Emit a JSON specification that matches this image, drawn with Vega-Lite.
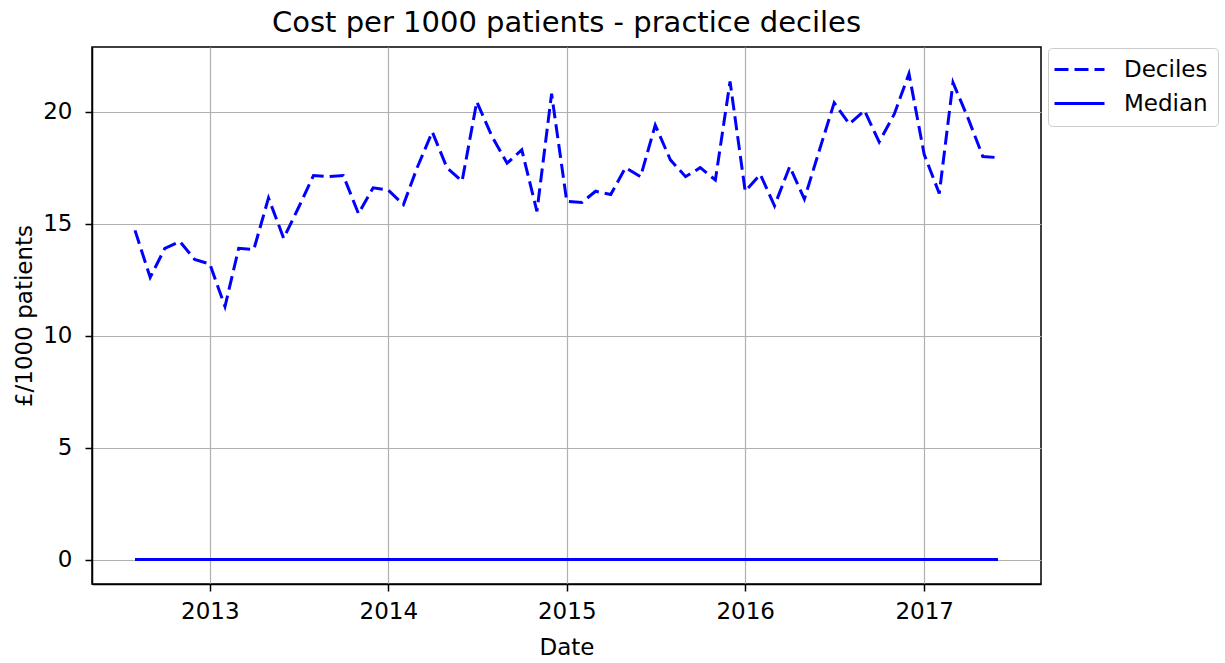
{
  "$schema": "https://vega.github.io/schema/vega-lite/v6.json",
  "autosize": "none",
  "width": 949,
  "height": 537,
  "padding": {"left": 92, "top": 47, "right": 184, "bottom": 79},
  "title": {"text": "Cost per 1000 patients - practice deciles", "fontSize": 29, "font": "DejaVu Sans", "fontWeight": "normal", "color": "#000000", "offset": 9, "anchor": "middle"},
  "config": {
    "font": "DejaVu Sans",
    "view": {"stroke": "#000000", "strokeWidth": 1.5},
    "axis": {"labelFont": "DejaVu Sans", "titleFont": "DejaVu Sans", "labelFontSize": 23, "titleFontSize": 23, "titleFontWeight": "normal", "labelColor": "#000000", "titleColor": "#000000", "domainColor": "#000000", "domainWidth": 1.5, "tickColor": "#000000", "tickWidth": 1.5, "tickSize": 7, "gridColor": "#b0b0b0", "gridWidth": 1.2, "grid": true},
    "legend": {"labelFont": "DejaVu Sans", "labelFontSize": 23, "labelColor": "#000000"}
  },
  "data": {"values": [
    {"date":"2012-08-01","Deciles":14.7,"Median":0},
    {"date":"2012-09-01","Deciles":12.6,"Median":0},
    {"date":"2012-10-01","Deciles":13.9,"Median":0},
    {"date":"2012-11-01","Deciles":14.2,"Median":0},
    {"date":"2012-12-01","Deciles":13.4,"Median":0},
    {"date":"2013-01-01","Deciles":13.2,"Median":0},
    {"date":"2013-02-01","Deciles":11.3,"Median":0},
    {"date":"2013-03-01","Deciles":13.9,"Median":0},
    {"date":"2013-04-01","Deciles":13.85,"Median":0},
    {"date":"2013-05-01","Deciles":16.15,"Median":0},
    {"date":"2013-06-01","Deciles":14.35,"Median":0},
    {"date":"2013-07-01","Deciles":15.7,"Median":0},
    {"date":"2013-08-01","Deciles":17.15,"Median":0},
    {"date":"2013-09-01","Deciles":17.1,"Median":0},
    {"date":"2013-10-01","Deciles":17.15,"Median":0},
    {"date":"2013-11-01","Deciles":15.45,"Median":0},
    {"date":"2013-12-01","Deciles":16.6,"Median":0},
    {"date":"2014-01-01","Deciles":16.5,"Median":0},
    {"date":"2014-02-01","Deciles":15.85,"Median":0},
    {"date":"2014-03-01","Deciles":17.5,"Median":0},
    {"date":"2014-04-01","Deciles":19.1,"Median":0},
    {"date":"2014-05-01","Deciles":17.5,"Median":0},
    {"date":"2014-06-01","Deciles":16.9,"Median":0},
    {"date":"2014-07-01","Deciles":20.45,"Median":0},
    {"date":"2014-08-01","Deciles":18.9,"Median":0},
    {"date":"2014-09-01","Deciles":17.7,"Median":0},
    {"date":"2014-10-01","Deciles":18.3,"Median":0},
    {"date":"2014-11-01","Deciles":15.55,"Median":0},
    {"date":"2014-12-01","Deciles":20.8,"Median":0},
    {"date":"2015-01-01","Deciles":16.0,"Median":0},
    {"date":"2015-02-01","Deciles":15.95,"Median":0},
    {"date":"2015-03-01","Deciles":16.45,"Median":0},
    {"date":"2015-04-01","Deciles":16.3,"Median":0},
    {"date":"2015-05-01","Deciles":17.5,"Median":0},
    {"date":"2015-06-01","Deciles":17.1,"Median":0},
    {"date":"2015-07-01","Deciles":19.4,"Median":0},
    {"date":"2015-08-01","Deciles":17.85,"Median":0},
    {"date":"2015-09-01","Deciles":17.1,"Median":0},
    {"date":"2015-10-01","Deciles":17.5,"Median":0},
    {"date":"2015-11-01","Deciles":16.95,"Median":0},
    {"date":"2015-12-01","Deciles":21.35,"Median":0},
    {"date":"2016-01-01","Deciles":16.45,"Median":0},
    {"date":"2016-02-01","Deciles":17.2,"Median":0},
    {"date":"2016-03-01","Deciles":15.8,"Median":0},
    {"date":"2016-04-01","Deciles":17.55,"Median":0},
    {"date":"2016-05-01","Deciles":16.1,"Median":0},
    {"date":"2016-06-01","Deciles":18.3,"Median":0},
    {"date":"2016-07-01","Deciles":20.4,"Median":0},
    {"date":"2016-08-01","Deciles":19.45,"Median":0},
    {"date":"2016-09-01","Deciles":20.05,"Median":0},
    {"date":"2016-10-01","Deciles":18.65,"Median":0},
    {"date":"2016-11-01","Deciles":19.9,"Median":0},
    {"date":"2016-12-01","Deciles":21.7,"Median":0},
    {"date":"2017-01-01","Deciles":18.1,"Median":0},
    {"date":"2017-02-01","Deciles":16.35,"Median":0},
    {"date":"2017-03-01","Deciles":21.3,"Median":0},
    {"date":"2017-04-01","Deciles":19.7,"Median":0},
    {"date":"2017-05-01","Deciles":18.0,"Median":0},
    {"date":"2017-06-01","Deciles":17.95,"Median":0}
  ]},
  "encoding": {
    "x": {"field": "date", "type": "temporal", "title": "Date",
      "scale": {"domain": ["2012-05-05", "2017-08-28"], "nice": false},
      "axis": {"format": "%Y", "tickCount": "year", "labelPadding": 9, "titlePadding": 13, "labelFlush": false, "labelOverlap": false}}
  },
  "layer": [
    {
      "transform": [{"fold": ["Deciles", "Median"], "as": ["series", "value"]}],
      "mark": {"type": "line", "strokeWidth": 3},
      "encoding": {
        "y": {"field": "value", "type": "quantitative", "title": "£/1000 patients",
          "scale": {"domain": [-1.09, 22.89], "nice": false, "zero": false},
          "axis": {"values": [0, 5, 10, 15, 20], "labelPadding": 13, "titlePadding": 6}},
        "color": {"field": "series", "type": "nominal", "scale": {"domain": ["Deciles", "Median"], "range": ["#0000ff", "#0000ff"]},
          "legend": {"title": null, "orient": "none", "legendX": 956, "legendY": 1, "symbolType": "M-2.5,0H2.5", "symbolSize": 400, "symbolStrokeWidth": 3, "symbolFillColor": "transparent", "symbolOffset": 10, "strokeColor": "#cccccc", "fillColor": "#ffffff", "cornerRadius": 4, "padding": 10, "labelOffset": 33, "rowPadding": 10}},
        "strokeDash": {"field": "series", "type": "nominal", "scale": {"domain": ["Deciles", "Median"], "range": [[14, 6], [1, 0]]},
          "legend": {"title": null, "orient": "none", "legendX": 956, "legendY": 1, "symbolType": "M-2.5,0H2.5", "symbolSize": 400, "symbolStrokeWidth": 3, "symbolFillColor": "transparent", "symbolOffset": 10, "strokeColor": "#cccccc", "fillColor": "#ffffff", "cornerRadius": 4, "padding": 10, "labelOffset": 33, "rowPadding": 10}}
      }
    },
    {
      "mark": {"type": "line", "strokeWidth": 3, "color": "#0000ff", "strokeDash": [14, 6], "opacity": 0.8},
      "encoding": {
        "y": {"field": "Median", "type": "quantitative"}
      }
    }
  ]
}
